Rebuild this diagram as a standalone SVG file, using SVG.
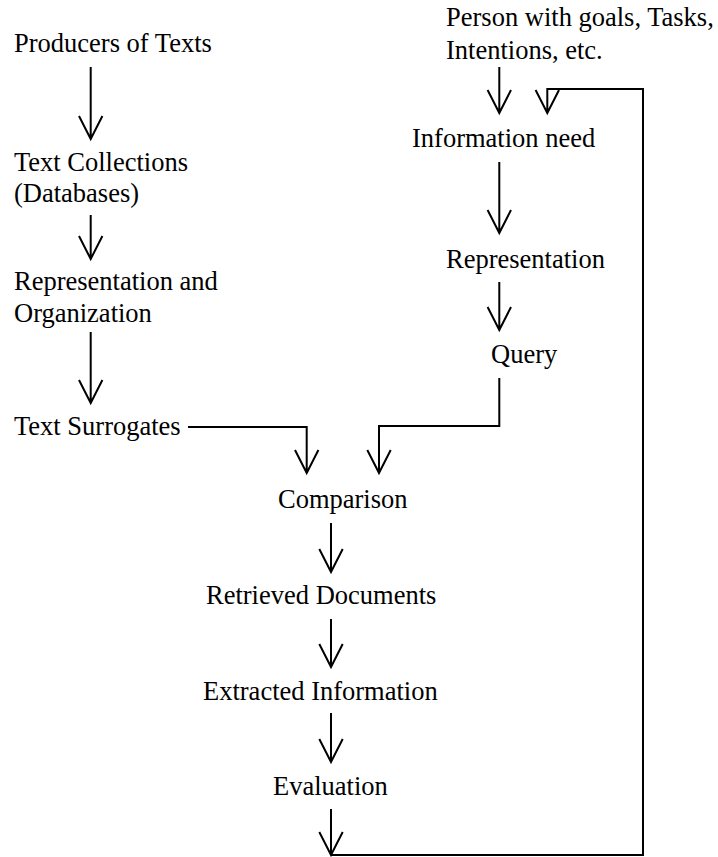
<svg xmlns="http://www.w3.org/2000/svg" width="718" height="857" viewBox="0 0 718 857">
<style>
text{font-family:"Liberation Serif","Times New Roman",serif;font-size:26.5px;fill:#000}
.c path{fill:none;stroke:#000;stroke-width:2;stroke-linejoin:miter}
</style>
<rect width="718" height="857" fill="#fff"/>
<g id="producers"><text x="14" y="52">Producers of Texts</text></g>
<g id="collections"><text x="14" y="171">Text Collections</text><text x="14" y="202">(Databases)</text></g>
<g id="reporg"><text x="14" y="290">Representation and</text><text x="14" y="322">Organization</text></g>
<g id="surrogates"><text x="14" y="435">Text Surrogates</text></g>
<g id="person"><text x="446" y="26">Person with goals, Tasks,</text><text x="446" y="59">Intentions, etc.</text></g>
<g id="need"><text x="412" y="147">Information need</text></g>
<g id="representation"><text x="446" y="268">Representation</text></g>
<g id="query"><text x="491" y="363">Query</text></g>
<g id="comparison"><text x="278" y="508">Comparison</text></g>
<g id="retrieved"><text x="206" y="604">Retrieved Documents</text></g>
<g id="extracted"><text x="203" y="700">Extracted Information</text></g>
<g id="evaluation"><text x="273" y="795">Evaluation</text></g>
<g id="connectors" class="c">
<path d="M90.7 67V139M79 116L90.7 139L102.4 116"/>
<path d="M90.7 215V259M79 236L90.7 259L102.4 236"/>
<path d="M90.7 332V403M79 380L90.7 403L102.4 380"/>
<path d="M188 427H306.7V473M295 450L306.7 473L318.4 450"/>
<path d="M499.3 67V113M487.6 90L499.3 113L511 90"/>
<path d="M499.3 162V233M487.6 210L499.3 233L511 210"/>
<path d="M499.3 282V330M487.6 307L499.3 330L511 307"/>
<path d="M499.3 378V426H379V473M367.3 450L379 473L390.7 450"/>
<path d="M331 523V572M319.3 549L331 572L342.7 549"/>
<path d="M331 619V667M319.3 644L331 667L342.7 644"/>
<path d="M331 713V762M319.3 739L331 762L342.7 739"/>
<path d="M331 809V855M319.3 832L331 855L342.7 832"/>
<path d="M331 855H643V89H547.3V113M535.6 90L547.3 113L559 90"/>
</g>
</svg>
